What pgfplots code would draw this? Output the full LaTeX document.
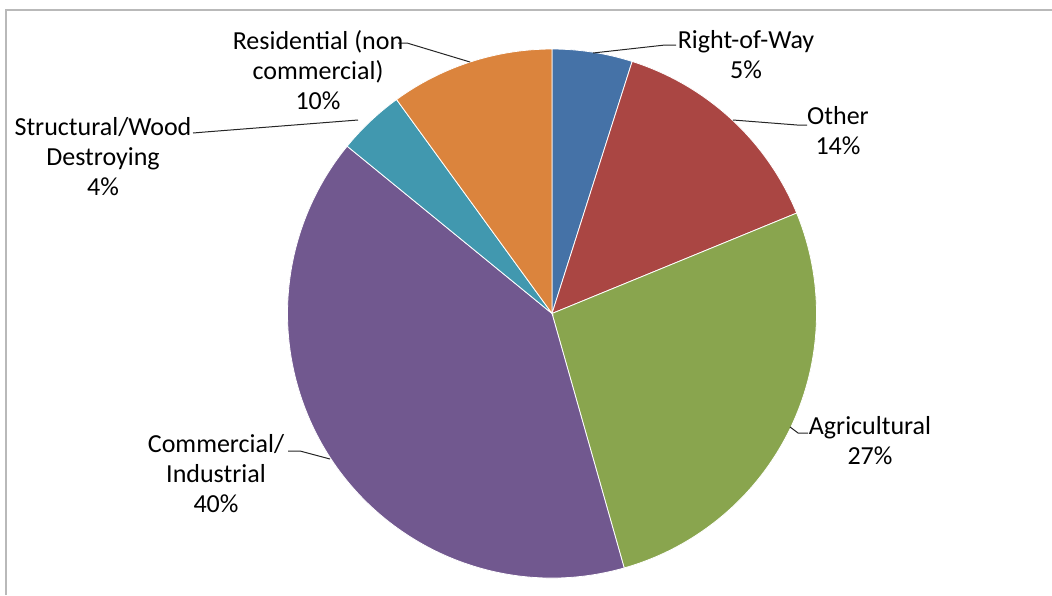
\documentclass[border=0pt]{standalone}
\usepackage{pgfplots}
\usepackage{pgfplotstable}
\pgfplotsset{compat=1.18}
\usepackage{fontspec}
\setmainfont{Carlito}

\definecolor{cRow}{HTML}{4572A7}
\definecolor{cOther}{HTML}{AA4643}
\definecolor{cAgri}{HTML}{89A54E}
\definecolor{cComm}{HTML}{71588F}
\definecolor{cStruct}{HTML}{4198AF}
\definecolor{cRes}{HTML}{DB843D}

% share of each slice in percent, clockwise from 12 o'clock
\pgfplotstableread{
share color
4.9  cRow
13.9 cOther
26.8 cAgri
40.3 cComm
4.1  cStruct
10.0 cRes
}\piedata

\begin{document}
\begin{tikzpicture}
\begin{axis}[
  hide axis, scale only axis, clip=false,
  x=0.5pt, y=0.5pt, y dir=reverse,
  xmin=0, xmax=1052, ymin=0, ymax=595,
]
  % chart frame (only top and left edges visible)
  \draw[gray!55, line width=0.8pt] (axis cs:6,595) -- (axis cs:6,10) -- (axis cs:1052,10);

  \xdef\angstart{90}
  \pgfplotsinvokeforeach{0,...,5}{
    \pgfplotstablegetelem{#1}{share}\of\piedata
    \pgfmathsetmacro\angend{\angstart - 3.6*\pgfplotsretval}
    \pgfplotstablegetelem{#1}{color}\of\piedata
    \edef\cmd{\noexpand\fill[fill=\pgfplotsretval, draw=white, line width=0.4pt]
      (axis cs:552,313.5) -- ++(\angstart:132.25pt)
      arc[start angle=\angstart, end angle=\angend, radius=132.25pt] -- cycle;}
    \cmd
    \xdef\angstart{\angend}
  }

  % leader lines
  \draw[black!85, line width=0.5pt] (axis cs:593,53) -- (axis cs:665,45) -- (axis cs:676,45);
  \draw[black!85, line width=0.5pt] (axis cs:733,120) -- (axis cs:797,125) -- (axis cs:807,125);
  \draw[black!85, line width=0.5pt] (axis cs:790,427) -- (axis cs:798,433) -- (axis cs:808,433);
  \draw[black!85, line width=0.5pt] (axis cs:288,451) -- (axis cs:300,451) -- (axis cs:330,459);
  \draw[black!85, line width=0.5pt] (axis cs:193,133) -- (axis cs:205,132) -- (axis cs:358,120);
  \draw[black!85, line width=0.5pt] (axis cs:398,43) -- (axis cs:407,43) -- (axis cs:470,62);

  % data labels
  \tikzset{lbl/.style={align=center, inner sep=0pt, font=\fontsize{13}{15}\selectfont}}
  \node[lbl] at (axis cs:746,55) {Right-of-Way\\5\%};
  \node[lbl] at (axis cs:838,131) {Other\\14\%};
  \node[lbl] at (axis cs:870,441) {Agricultural\\27\%};
  \node[lbl] at (axis cs:216,474) {Commercial/\\Industrial\\40\%};
  \node[lbl] at (axis cs:103,157) {Structural/Wood\\Destroying\\4\%};
  \node[lbl] at (axis cs:318,70) {Residential (non\\commercial)\\10\%};
\end{axis}
\pgfresetboundingbox
\path (current axis.south west) rectangle (current axis.north east);
\end{tikzpicture}
\end{document}
